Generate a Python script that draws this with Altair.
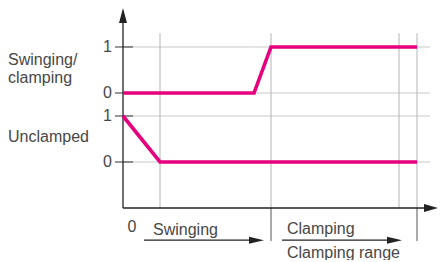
import altair as alt
import pandas as pd

# ---- data (x: time offset from origin, y: signal level) ----
# upper signal "Swinging/clamping" drawn at base 1.5 (levels 0/1 -> 1.5/2.5)
upper_x = [0, 131, 148, 294]
upper_v = [0, 0, 1, 1]
# lower signal "Unclamped" (levels 0/1)
lower_x = [0, 37, 294]
lower_v = [1, 0, 0]
UPPER_BASE = 1.5

grid_levels = [0, 1, 1.5, 2.5]
tick_labels = ["0", "1", "0", "1"]
vgrid_x = [37, 148, 276, 294]
ext_x = [148, 294]

H = 252
XD = [-115, 315]
YD = [(162 - 8 - H) / 46, 3.3478]
xs = alt.Scale(domain=XD, nice=False, zero=False)
ys = alt.Scale(domain=YD, nice=False, zero=False)
TXT = "#474747"
PINK = "#e6007e"
FONT = "Liberation Sans"
FS = 16


def X(f="x"):
    return alt.X(f"{f}:Q", scale=xs, axis=None)


def Y(f="y"):
    return alt.Y(f"{f}:Q", scale=ys, axis=None)


signal = pd.DataFrame(
    [{"x": x, "y": v + UPPER_BASE, "s": "upper", "o": i} for i, (x, v) in enumerate(zip(upper_x, upper_v))]
    + [{"x": x, "y": v, "s": "lower", "o": i} for i, (x, v) in enumerate(zip(lower_x, lower_v))]
)

hgrid = pd.DataFrame({"y": grid_levels, "x": [0] * 4, "x2": [307] * 4, "t": tick_labels})
vgrid = pd.DataFrame({"x": vgrid_x, "y": [-1] * 4, "y2": [2.8] * 4})
ext = pd.DataFrame({"x": ext_x, "y": [-1] * 2, "y2": [-1.717] * 2})

layers = []
layers.append(alt.Chart(hgrid).mark_rule(color="#c8c8c8", strokeWidth=1).encode(x=X(), x2="x2", y=Y()))
layers.append(alt.Chart(vgrid).mark_rule(color="#b4b4b4", strokeWidth=1).encode(x=X(), y=Y(), y2="y2"))
layers.append(alt.Chart(ext).mark_rule(color="#555555", strokeWidth=1).encode(x=X(), y=Y(), y2="y2"))

# ticks
ticks = pd.DataFrame({"y": grid_levels, "x": [-8] * 4, "x2": [10] * 4, "t": tick_labels})
layers.append(alt.Chart(ticks).mark_rule(color="#333333", strokeWidth=1).encode(x=X(), x2="x2", y=Y()))
layers.append(
    alt.Chart(ticks.assign(x=-11))
    .mark_text(align="right", baseline="middle", font=FONT, fontSize=FS, color=TXT)
    .encode(x=X(), y=Y(), text="t:N")
)

# axes
axes = pd.DataFrame({"x": [0, 0], "x2": [0, 309], "y": [-1, -1], "y2": [3.18, -1]})
layers.append(alt.Chart(axes).mark_rule(color="#222222", strokeWidth=1.3).encode(x=X(), x2="x2", y=Y(), y2="y2"))
layers.append(
    alt.Chart(pd.DataFrame({"x": [0], "y": [3.185]}))
    .mark_point(shape="M-0.53,1L0,-1L0.53,1Z", size=225, filled=True, opacity=1, color="#222222")
    .encode(x=X(), y=Y())
)
layers.append(
    alt.Chart(pd.DataFrame({"x": [308], "y": [-1]}))
    .mark_point(shape="M-1,-0.57L1,0L-1,0.57Z", size=196, filled=True, opacity=1, color="#222222")
    .encode(x=X(), y=Y())
)

# signals
layers.append(
    alt.Chart(signal)
    .mark_line(color=PINK, strokeWidth=3.6, strokeJoin="miter")
    .encode(x=X(), y=Y(), detail="s:N", order="o:Q")
)

# labels
labels = pd.DataFrame(
    {
        "x": [-115, -115, -115, 9, 30, 164, 164],
        "y": [2.217, 1.826, 0.543, -1.413, -1.478, -1.457, -1.978],
        "t": ["Swinging/", "clamping", "Unclamped", "0", "Swinging", "Clamping", "Clamping range"],
        "a": ["left", "left", "left", "center", "left", "left", "left"],
    }
)
for a in ["left", "center"]:
    layers.append(
        alt.Chart(labels[labels.a == a])
        .mark_text(align=a, baseline="middle", font=FONT, fontSize=FS, color=TXT)
        .encode(x=X(), y=Y(), text="t:N")
    )

# phase arrows
arr = pd.DataFrame({"x": [21, 159], "x2": [134, 272], "y": [-1.7, -1.7]})
layers.append(alt.Chart(arr).mark_rule(color="#222222", strokeWidth=1.3).encode(x=X(), x2="x2", y=Y()))
heads = pd.DataFrame({"x": [133.5, 271.5], "y": [-1.7, -1.7]})
layers.append(
    alt.Chart(heads)
    .mark_point(shape="M-1,-0.47L1,0L-1,0.47Z", size=225, filled=True, opacity=1, color="#222222")
    .encode(x=X(), y=Y())
)

chart = (
    alt.layer(*layers)
    .properties(width=430, height=H, padding=0, autosize=alt.AutoSizeParams(type="none"))
    .configure_view(stroke=None)
)
chart.save("out.html", embed_options={"renderer": "svg", "actions": False})
